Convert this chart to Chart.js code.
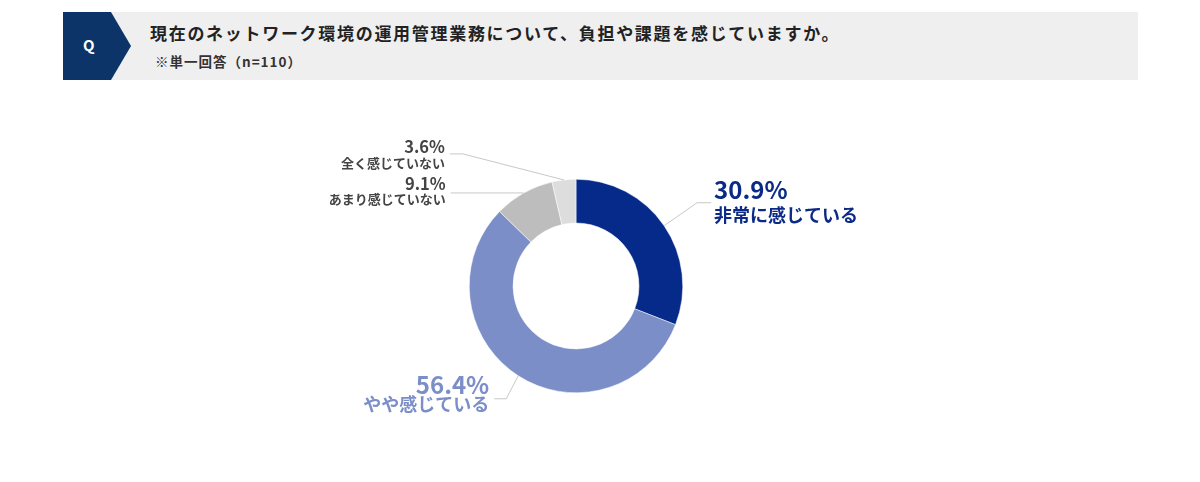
<!DOCTYPE html>
<html lang="ja">
<head>
<meta charset="utf-8">
<script src="https://cdn.jsdelivr.net/npm/chart.js@4"></script>
<style>
  html, body { margin: 0; padding: 0; background: #fff; }
  body { width: 1200px; height: 482px; position: relative; overflow: hidden;
         font-family: "Noto Sans CJK JP", "Noto Sans", sans-serif; }
  .head { position: absolute; left: 63px; top: 12px; width: 1075px; height: 68px; background: #efefef; }
  .q { position: absolute; left: 0; top: 0; width: 68px; height: 68px; background: #0c3468;
       clip-path: polygon(0 0, 48px 0, 68px 34px, 48px 68px, 0 68px); }
  .q span { position: absolute; left: 20px; top: 22px; color: #fff; font-weight: 700; font-size: 15px; }
  .title { position: absolute; left: 87px; top: 8px; font-size: 17px; font-weight: 700; color: #222;
           letter-spacing: 1.7px; white-space: nowrap; }
  .sub { position: absolute; left: 92px; top: 39px; font-size: 13.5px; font-weight: 700; color: #333;
         letter-spacing: 1px; white-space: nowrap; }
  #wrap { position: absolute; left: 0; top: 0; width: 1200px; height: 482px; }
</style>
</head>
<body>
<div class="head">
  <div class="q"><span>Q</span></div>
  <div class="title">現在のネットワーク環境の運用管理業務について、負担や課題を感じていますか。</div>
  <div class="sub">※単一回答（n=110）</div>
</div>
<div id="wrap"><canvas id="donut"></canvas></div>
<script>
const categories = ['非常に感じている', 'やや感じている', 'あまり感じていない', '全く感じていない'];
const shares = [30.9, 56.4, 9.1, 3.6];
const sliceColors = ['#062a89', '#7b8ec8', '#bdbdbd', '#dddddd'];
const textColors = ['#0b2a86', '#7b8ec8', '#444444', '#444444'];

// leader line bends and text placement, relative to the slice's outer mid point
const labelLayout = [
    { bend: [33, -23], end: 14, side: 'left', pct: -4, name: 19, big: true },
    { bend: [-12, 23], end: -12, side: 'right', pct: -5, name: 12, big: true },
    { bend: [0, 0], end: -73, side: 'right', pct: -3, name: 11, big: false },
    { bend: [-101, -26], end: -13, side: 'right', pct: -1, name: 14, big: false }
];

const calloutPlugin = {
    id: 'callouts',
    afterDatasetsDraw(chart) {
        const ctx = chart.ctx;
        const arcs = chart.getDatasetMeta(0).data;
        arcs.forEach((arc, i) => {
            const p = arc.getProps(['x', 'y', 'startAngle', 'endAngle', 'outerRadius'], true);
            const mid = (p.startAngle + p.endAngle) / 2;
            const ax = p.x + Math.cos(mid) * p.outerRadius;
            const ay = p.y + Math.sin(mid) * p.outerRadius;
            const lay = labelLayout[i];
            const bx = ax + lay.bend[0];
            const by = ay + lay.bend[1];
            const ex = bx + lay.end;

            ctx.save();
            ctx.strokeStyle = '#c8c8c8';
            ctx.lineWidth = 1;
            ctx.beginPath();
            ctx.moveTo(ax, ay);
            ctx.lineTo(bx, by);
            ctx.lineTo(ex, by);
            ctx.stroke();

            const tx = lay.side === 'left' ? ex + 3 : ex - 5;
            ctx.textAlign = lay.side;
            ctx.textBaseline = 'alphabetic';
            ctx.fillStyle = textColors[i];
            const fam = '"Noto Sans CJK JP", "Noto Sans", sans-serif';
            ctx.font = (lay.big ? '700 24px ' : '700 16.5px ') + fam;
            ctx.fillText(shares[i].toFixed(1) + '%', tx, by + lay.pct);
            ctx.font = (lay.big ? '700 18px ' : '700 13px ') + fam;
            ctx.fillText(categories[i], tx, by + lay.name);
            ctx.restore();
        });
    }
};

new Chart(document.getElementById('donut'), {
    type: 'doughnut',
    data: {
        labels: categories,
        datasets: [{
            data: shares,
            backgroundColor: sliceColors,
            borderColor: '#ffffff',
            borderWidth: 0.5
        }]
    },
    options: {
        responsive: true,
        maintainAspectRatio: false,
        animation: false,
        cutout: '59%',
        layout: { padding: { left: 469, right: 517, top: 179, bottom: 89 } },
        plugins: {
            legend: { display: false },
            tooltip: { enabled: false }
        }
    },
    plugins: [calloutPlugin]
});
</script>
</body>
</html>
